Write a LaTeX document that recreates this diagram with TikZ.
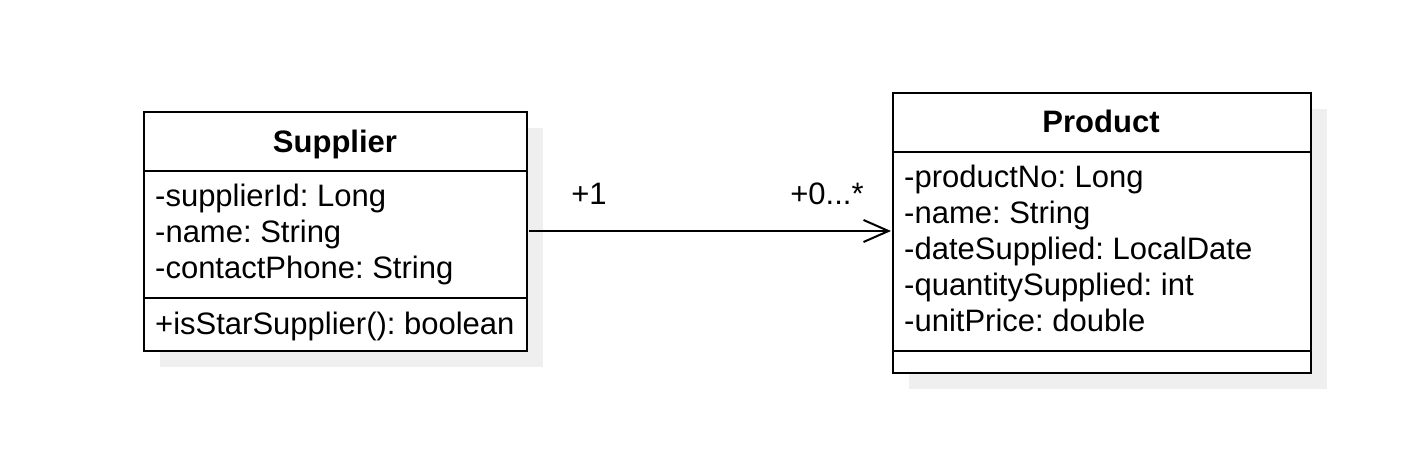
\documentclass[tikz,border=0pt]{standalone}
\usepackage{fontspec}
\setmainfont{Liberation Sans}
\frenchspacing
\usetikzlibrary{arrows.meta}
\definecolor{shadowgray}{HTML}{EFEFEF}
\begin{document}
\begin{tikzpicture}[x=1pt,y=-1pt,
  box/.style={draw=black,line width=2pt,fill=white},
  shadowbox/.style={fill=shadowgray,draw=none},
  divider/.style={draw=black,line width=2pt},
  txt/.style={anchor=base west,inner sep=0pt,font=\fontsize{31}{36}\selectfont},
  ttl/.style={anchor=base,inner sep=0pt,font=\fontsize{31}{36}\selectfont\bfseries},
  lbl/.style={anchor=base,inner sep=0pt,font=\fontsize{31}{36}\selectfont},
  assoc/.style={draw=black,line width=2pt,-{Straight Barb[length=25pt,width=22pt,line width=2pt]}}]
\useasboundingbox (0,0) rectangle (1420,466);
% Supplier
\fill[shadowbox] (160,128) rectangle (543,367);
\node[box,minimum width=383pt,minimum height=239pt,inner sep=0pt,anchor=north west] (sup) at (143,111) {};
\draw[divider] (143,171) -- (526,171);
\draw[divider] (143,298) -- (526,298);
\node[ttl] (supt) at (335,152) {Supplier};
\node[txt] (sa1) at (155,206) {-supplierId: Long};
\node[txt] (sa2) at (155,242) {-name: String};
\node[txt] (sa3) at (155,278) {-contactPhone: String};
\node[txt] (sm1) at (155,334) {+isStarSupplier(): boolean};
% Product
\fill[shadowbox] (909,109) rectangle (1327,389);
\node[box,minimum width=418pt,minimum height=280pt,inner sep=0pt,anchor=north west] (prod) at (892,92) {};
\draw[divider] (892,152) -- (1310,152);
\draw[divider] (892,351) -- (1310,351);
\node[ttl] (prodt) at (1101,132) {Product};
\node[txt] (pa1) at (904,187) {-productNo: Long};
\node[txt] (pa2) at (904,223) {-name: String};
\node[txt] (pa3) at (904,259) {-dateSupplied: LocalDate};
\node[txt] (pa4) at (904,295) {-quantitySupplied: int};
\node[txt] (pa5) at (904,331) {-unitPrice: double};
% association
\coordinate (a0) at (529,231);
\coordinate (a1) at (891,231);
\draw[assoc] (a0) -- (a1);
\node[lbl] (m1) at (589,204) {+1};
\node[lbl] (m2) at (827,204) {+0...*};
\end{tikzpicture}
\end{document}
